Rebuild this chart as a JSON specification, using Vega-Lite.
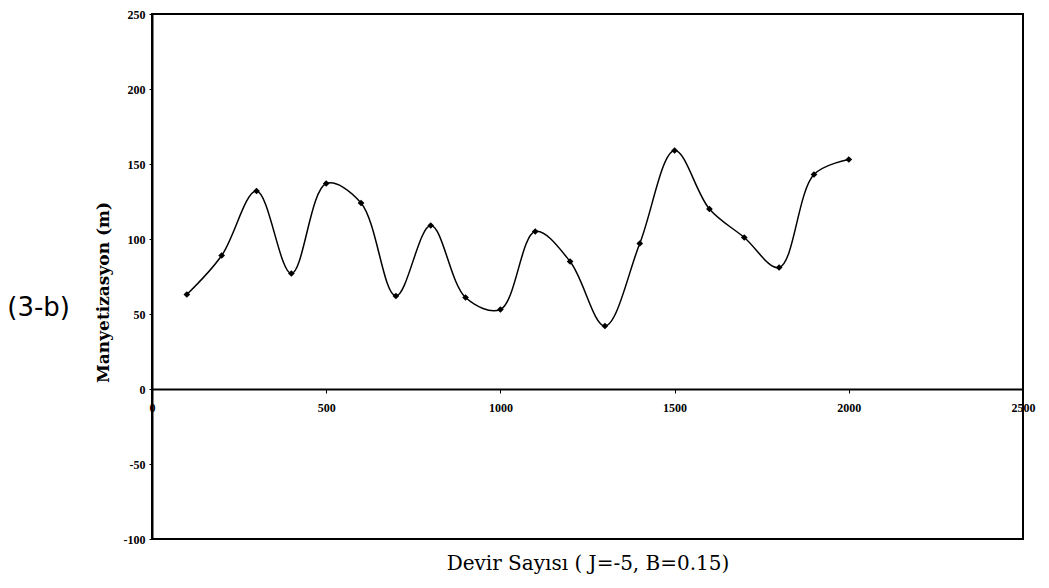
{
  "$schema": "https://vega.github.io/schema/vega-lite/v6.json",
  "width": 871,
  "height": 525,
  "autosize": {"type": "none"},
  "padding": {"left": 152, "top": 14, "right": 26, "bottom": 49},
  "background": "white",
  "config": {
    "view": {"stroke": "black", "strokeWidth": 2},
    "font": "Liberation Serif"
  },
  "title": {
    "text": "(3-b)",
    "orient": "left",
    "anchor": "middle",
    "angle": 0,
    "font": "DejaVu Sans",
    "fontSize": 26,
    "fontWeight": "normal",
    "color": "black",
    "align": "left",
    "baseline": "middle",
    "offset": 30,
    "dx": 6,
    "dy": 31
  },
  "data": {
    "values": [
      {"devir": 100, "m": 63},
      {"devir": 200, "m": 89},
      {"devir": 300, "m": 132},
      {"devir": 400, "m": 77},
      {"devir": 500, "m": 137},
      {"devir": 600, "m": 124},
      {"devir": 700, "m": 62},
      {"devir": 800, "m": 109},
      {"devir": 900, "m": 61},
      {"devir": 1000, "m": 53},
      {"devir": 1100, "m": 105},
      {"devir": 1200, "m": 85},
      {"devir": 1300, "m": 42},
      {"devir": 1400, "m": 97},
      {"devir": 1500, "m": 159},
      {"devir": 1600, "m": 120},
      {"devir": 1700, "m": 101},
      {"devir": 1800, "m": 81},
      {"devir": 1900, "m": 143},
      {"devir": 2000, "m": 153}
    ]
  },
  "encoding": {
    "x": {
      "field": "devir", "type": "quantitative",
      "scale": {"domain": [0, 2500], "nice": false},
      "axis": {
        "title": "Devir Sayısı ( J=-5, B=0.15)",
        "values": [0, 500, 1000, 1500, 2000, 2500],
        "labelExpr": "'' + datum.value",
        "labelFlush": false,
        "grid": false,
        "offset": -150,
        "domainColor": "black", "domainWidth": 2,
        "tickColor": "black", "tickSize": 4,
        "labelFont": "Liberation Serif", "labelFontWeight": "bold", "labelFontSize": 12,
        "labelColor": "black", "labelPadding": 9,
        "titleFont": "DejaVu Serif", "titleFontSize": 20, "titleFontWeight": "normal",
        "titleColor": "black", "titleY": 174, "titleBaseline": "middle"
      }
    },
    "y": {
      "field": "m", "type": "quantitative",
      "scale": {"domain": [-100, 250], "nice": false, "zero": false},
      "axis": {
        "title": "Manyetizasyon (m)",
        "values": [-100, -50, 0, 50, 100, 150, 200, 250],
        "labelExpr": "'' + datum.value",
        "grid": false,
        "domainColor": "black", "domainWidth": 2,
        "tickColor": "black", "tickSize": 3,
        "labelFont": "Liberation Serif", "labelFontWeight": "bold", "labelFontSize": 12,
        "labelColor": "black", "labelPadding": 4,
        "titleFont": "DejaVu Serif", "titleFontSize": 17, "titleFontWeight": "bold",
        "titleColor": "black", "titleX": -49, "titleY": 278, "titleBaseline": "middle"
      }
    }
  },
  "layer": [
    {
      "mark": {"type": "line", "interpolate": "catmull-rom", "color": "black", "strokeWidth": 1.5}
    },
    {
      "mark": {"type": "point", "shape": "diamond", "filled": true, "color": "black", "size": 45, "opacity": 1}
    }
  ]
}
